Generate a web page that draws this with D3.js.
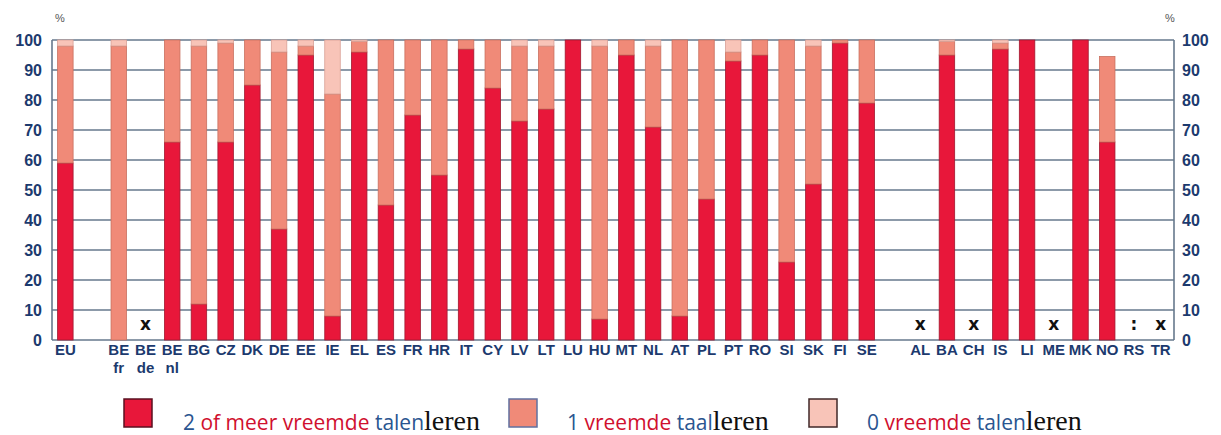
<!DOCTYPE html>
<html><head><meta charset="utf-8">
<script src="https://cdn.jsdelivr.net/npm/d3@7"></script>
<style>body{margin:0;background:#fff;}svg{display:block;}</style>
</head><body>
<svg id="c" width="1221" height="435"></svg>
<script>
const categories = ["EU","","BE fr","BE de","BE nl","BG","CZ","DK","DE","EE","IE","EL","ES","FR","HR","IT","CY","LV","LT","LU","HU","MT","NL","AT","PL","PT","RO","SI","SK","FI","SE"," ","AL","BA","CH","IS","LI","ME","MK","NO","RS","TR"];
// null = no bar; flags drawn instead
const twoOrMore = [59,null,0,null,66,12,66,85,37,95,8,96,45,75,55,97,84,73,77,100,7,95,71,8,47,93,95,26,52,99,79,null,null,95,null,97,100,null,100,66,null,null];
const oneLang   = [39,null,98,null,34,86,33,15,59,3,74,3.5,55,25,45,3,16,25,21,0,91,5,27,92,53,3,5,74,46,1,21,null,null,4.5,null,2,0,null,0,28.5,null,null];
const zeroLang  = [2,null,2,null,0,2,1,0,4,2,18,0.5,0,0,0,0,0,2,2,0,2,0,2,0,0,4,0,0,2,0,0,null,null,0.5,null,1,0,null,0,0,null,null];
const flags = {"BE de":"x","AL":"x","CH":"x","ME":"x","RS":":","TR":"x"};
const yTicks = [0,10,20,30,40,50,60,70,80,90,100];
const seriesNames = ["2 of meer vreemde talen","1 vreemde taal","0 vreemde talen"];
const colors = ["#e8173a","#f08a78","#f8c4b8"];
const strokes = ["#a01a30","#c8705f","#d8a096"];

const svg = d3.select("#c");
const L = 52, R = 1174, T = 40, B = 340;
const x = d3.scaleBand().domain(categories).range([L, R]).paddingInner(0.42).paddingOuter(0.21);
const y = d3.scaleLinear().domain([0,100]).range([B, T]);
const navy = "#1c3a6e";
const gridColor = "#66788c";

// grid lines
svg.append("g").selectAll("line").data(yTicks).join("line")
  .attr("x1", L).attr("x2", R).attr("y1", d=>y(d)).attr("y2", d=>y(d))
  .attr("stroke", gridColor).attr("stroke-width", 1.6);
// frame sides
svg.append("line").attr("x1",L).attr("x2",L).attr("y1",T).attr("y2",B).attr("stroke",gridColor).attr("stroke-width",1.6);
svg.append("line").attr("x1",R).attr("x2",R).attr("y1",T).attr("y2",B).attr("stroke",gridColor).attr("stroke-width",1.6);

// stacked data
const rows = categories.map((c,i)=>({cat:c, s:[twoOrMore[i], oneLang[i], zeroLang[i]]}));
const gBars = svg.append("g");
rows.forEach(r=>{
  if (r.s[0] === null) return;
  let base = 0;
  r.s.forEach((v,k)=>{
    if (v > 0) {
      gBars.append("rect")
        .attr("x", x(r.cat)).attr("width", x.bandwidth())
        .attr("y", y(base+v)).attr("height", y(base)-y(base+v))
        .attr("fill", colors[k]).attr("stroke", strokes[k]).attr("stroke-width", 0.8);
    }
    base += v;
  });
});

// flags
Object.entries(flags).forEach(([c,f])=>{
  svg.append("text").attr("x", x(c)+x.bandwidth()/2).attr("y", f===":" ? y(0)-10 : y(0)-10)
    .attr("text-anchor","middle").attr("font-family","DejaVu Sans, sans-serif")
    .attr("font-weight","bold").attr("font-size", f===":"?17:17).attr("fill","#111")
    .text(f === "x" ? "x" : ":");
});

// y axes
const yAxisL = d3.axisLeft(y).tickValues(yTicks).tickSize(0).tickPadding(10);
const yAxisR = d3.axisRight(y).tickValues(yTicks).tickSize(0).tickPadding(8);
const gl = svg.append("g").attr("transform",`translate(${L},0)`).call(yAxisL);
const gr = svg.append("g").attr("transform",`translate(${R},0)`).call(yAxisR);
[gl,gr].forEach(g=>{
  g.select(".domain").remove();
  g.selectAll("text").attr("font-family","Liberation Sans, Arial, sans-serif")
    .attr("font-weight","bold").attr("font-size",16).attr("fill",navy);
});
svg.append("text").attr("x",60).attr("y",22).attr("text-anchor","middle")
  .attr("font-family","Liberation Sans, Arial, sans-serif").attr("font-size",11).attr("fill","#555").text("%");
svg.append("text").attr("x",1170).attr("y",22).attr("text-anchor","middle")
  .attr("font-family","Liberation Sans, Arial, sans-serif").attr("font-size",11).attr("fill","#555").text("%");

// x labels
const gx = svg.append("g").attr("transform",`translate(0,${B})`)
  .call(d3.axisBottom(x).tickSize(0).tickPadding(10).tickFormat(()=>""));
gx.select(".domain").remove();
gx.selectAll(".tick text").each(function(d){
  const t = d3.select(this);
  t.attr("font-family","Liberation Sans, Arial, sans-serif").attr("font-weight","bold")
   .attr("font-size",15).attr("fill",navy).attr("dy","0.71em");
  const parts = d.trim().split(" ");
  if (!d.trim()) return;
  parts.forEach((p,i)=>{
    t.append("tspan").attr("x",0).attr("dy", i===0? "0.3em":"1.2em").text(p);
  });
});

// legend
const legend = [
  {sq:[124,399], tx:183, parts:[["2 ","#2a5590"],["of meer vreemde ","#d0102e"],["talen","#2a5590"]]},
  {sq:[509,399], tx:567, parts:[["1 ","#2a5590"],["vreemde ","#d0102e"],["taal","#2a5590"]]},
  {sq:[809,399], tx:867, parts:[["0 ","#2a5590"],["vreemde ","#d0102e"],["talen","#2a5590"]]}
];
const legStroke = ["#5a1020","#6070a0","#402828"];
legend.forEach((l,k)=>{
  svg.append("rect").attr("x",l.sq[0]).attr("y",l.sq[1]).attr("width",28).attr("height",28)
    .attr("fill",colors[k]).attr("stroke",legStroke[k]).attr("stroke-width",1.5);
  const t = svg.append("text").attr("x",l.tx).attr("y",430);
  l.parts.forEach(([s,c])=>{
    t.append("tspan").attr("font-family","Open Sans, DejaVu Sans, sans-serif").attr("font-size",21)
      .attr("fill",c).attr("xml:space","preserve").text(s);
  });
  t.append("tspan").attr("font-family","Liberation Serif, Times New Roman, serif").attr("font-size",28)
    .attr("fill","#111").text("leren");
});
</script>
</body></html>
